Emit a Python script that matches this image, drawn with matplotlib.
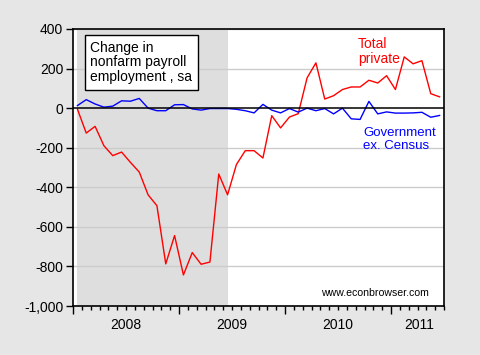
import matplotlib
matplotlib.use("Agg")
import matplotlib.pyplot as plt
import matplotlib.transforms as mtrans
from matplotlib.ticker import FixedLocator, FuncFormatter, NullFormatter

plt.rcParams['font.family'] = ['Liberation Sans', 'DejaVu Sans']

# Monthly observations Jan 2008 .. Jun 2011 (index 0..41)
private = [-5, -126, -92, -190, -240, -222, -274, -323, -438, -493,
           -787, -644, -843, -730, -789, -778, -333, -438, -285, -215,
           -215, -252, -38, -100, -45, -28, 153, 229, 46, 63,
           94, 107, 107, 141, 127, 164, 94, 259, 224, 240,
           73, 57]
government = [13, 43, 21, 5, 10, 37, 35, 49, 0, -13,
              -13, 17, 18, -4, -10, -2, -2, -2, -6, -13,
              -24, 19, -10, -24, -2, -20, 0, -13, -2, -29,
              0, -54, -57, 34, -29, -19, -25, -25, -24, -21,
              -46, -37]
year_labels = ['2008', '2009', '2010', '2011']
year_label_pos = [5.5, 17.5, 29.5, 38.7]
recession = (0, 17)   # shaded months (Jan 2008 .. Jun 2009)
yticks = [400, 200, 0, -200, -400, -600, -800, -1000]

months = list(range(len(private)))

bg = '#e6e6e6'
fig = plt.figure(figsize=(4.8, 3.55), dpi=100, facecolor=bg)
ax = fig.add_axes([73/480, 1-306/355, (444-73)/480, (306-29)/355])
ax.set_facecolor('white')

ax.axvspan(recession[0], recession[1], color='#dedede', zorder=0, lw=0)
for v in yticks:
    if v != 0:
        ax.axhline(v, color='#cccccc', lw=1, zorder=1)
ax.plot(months, private, color='#ff0000', lw=1, zorder=3)
ax.plot(months, government, color='#0000ff', lw=1, zorder=3)
ax.axhline(0, color='black', lw=1.1, zorder=4)

ax.set_xlim(-0.5, 41.5)
ax.set_ylim(-1000, 400)

ax.yaxis.set_major_locator(FixedLocator(yticks))
ax.yaxis.set_major_formatter(FuncFormatter(lambda v, p: f"{int(v):,}"))
ax.tick_params(axis='y', direction='out', length=5, width=1, labelsize=10, pad=2)

ax.xaxis.set_major_locator(FixedLocator([-0.5, 11.5, 23.5, 35.5]))
ax.xaxis.set_minor_locator(FixedLocator([m + 0.5 for m in range(-1, 42)]))
ax.xaxis.set_major_formatter(NullFormatter())
ax.tick_params(axis='x', which='major', direction='out', length=6, width=1)
ax.tick_params(axis='x', which='minor', direction='out', length=3, width=1)
lab_tr = ax.transData + mtrans.ScaledTranslation(0, -12/100, fig.dpi_scale_trans)
for pos, lab in zip(year_label_pos, year_labels):
    ax.text(pos, -1000, lab, ha='center', va='top', fontsize=10,
            transform=lab_tr, clip_on=False)

for s in ax.spines.values():
    s.set_color('black')
    s.set_linewidth(1.2)

ax.text(0.047, 0.958, 'Change in\nnonfarm payroll\nemployment , sa', transform=ax.transAxes,
        ha='left', va='top', fontsize=10, linespacing=1.05,
        bbox=dict(boxstyle='square,pad=0.42', fc='white', ec='black', lw=1), zorder=6)
ax.text(0.768, 0.97, 'Total\nprivate', transform=ax.transAxes, ha='left', va='top',
        fontsize=10, color='#ff0000', linespacing=1.05)
ax.text(0.783, 0.645, 'Government\nex. Census', transform=ax.transAxes, ha='left', va='top',
        fontsize=9.5, color='#0000ff', linespacing=1.05)
ax.text(0.96, 0.03, 'www.econbrowser.com', transform=ax.transAxes, ha='right', va='bottom',
        fontsize=7.6)

fig.savefig('out.png', dpi=100, facecolor=bg)
